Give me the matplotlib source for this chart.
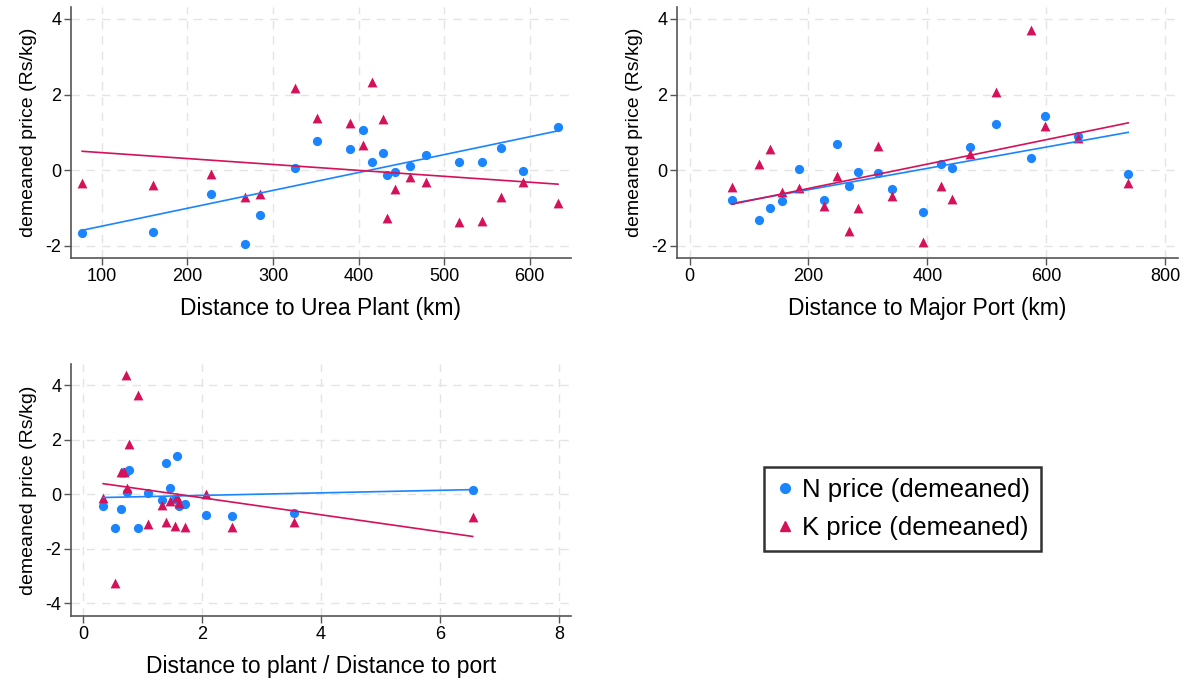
import numpy as np
import matplotlib
matplotlib.use("Agg")
from matplotlib import pyplot as plt
from matplotlib.lines import Line2D

plt.rcParams['font.family'] = ['Liberation Sans', 'DejaVu Sans']
plt.rcParams['axes.unicode_minus'] = False

# --- data ---
# panel 1: distance to urea plant (km)
d_plant = [77, 160, 227, 267, 285, 326, 351, 390, 405, 416, 428, 433, 442, 460,
           479, 517, 544, 566, 592, 633]
n_plant = [-1.67, -1.63, -0.63, -1.96, -1.19, 0.07, 0.78, 0.56, 1.07, 0.22, 0.45,
           -0.14, -0.05, 0.11, 0.40, 0.22, 0.22, 0.59, -0.02, 1.15]
k_plant = [-0.33, -0.38, -0.11, -0.72, -0.62, 2.17, 1.39, 1.25, 0.67, 2.32, 1.35,
           -1.27, -0.50, -0.19, -0.30, -1.36, -1.34, -0.70, -0.31, -0.88]

# panel 2: distance to major port (km)
d_port = [71, 117, 136, 156, 184, 226, 248, 268, 283, 317, 340, 392, 423, 441,
          471, 516, 574, 598, 653, 738]
n_port = [-0.78, -1.32, -1.00, -0.82, 0.04, -0.79, 0.70, -0.42, -0.06, -0.08,
          -0.49, -1.11, 0.15, 0.06, 0.61, 1.22, 0.33, 1.44, 0.90, -0.11]
k_port = [-0.44, 0.15, 0.56, -0.59, -0.47, -0.95, -0.16, -1.61, -0.99, 0.64,
          -0.69, -1.91, -0.41, -0.76, 0.42, 2.06, 3.70, 1.17, 0.86, -0.35]

# panel 3: ratio of the two distances
ratio = [0.34, 0.54, 0.64, 0.69, 0.72, 0.74, 0.78, 0.93, 1.10, 1.33, 1.40, 1.46,
         1.54, 1.58, 1.62, 1.71, 2.07, 2.50, 3.54, 6.55]
n_ratio = [-0.43, -1.23, -0.53, 0.80, 0.80, 0.09, 0.90, -1.23, 0.05, -0.21, 1.15,
           0.22, -0.18, 1.40, -0.45, -0.34, -0.78, -0.79, -0.70, 0.17]
k_ratio = [-0.12, -3.24, 0.81, 0.81, 4.37, 0.23, 1.83, 3.64, -1.10, -0.40, -1.01,
           -0.26, -1.15, -0.09, -0.33, -1.21, 0.00, -1.21, -1.03, -0.83]

# fitted lines (intercept, slope) as shown in the picture
fit_plant_n = (-1.954, 0.00473)
fit_plant_k = (0.620, -0.001565)
fit_port_n = (-1.081, 0.00282)
fit_port_k = (-1.130, 0.003226)
fit_ratio_n = (-0.136, 0.0467)
fit_ratio_k = (0.495, -0.3122)

blue = '#1a85ff'
red = '#d41159'
ylab = 'demeaned price (Rs/kg)'


def panel(ax, x, n, k, fn, fk, xlabel, xlim, ylim, xticks, yticks):
    x = np.array(x)
    ax.scatter(x, n, s=44, color=blue, marker='o', linewidths=0, zorder=3)
    ax.scatter(x, k, s=50, color=red, marker='^', linewidths=0, zorder=3)
    xx = np.array([x.min(), x.max()])
    for (a, b), c in [(fn, blue), (fk, red)]:
        ax.plot(xx, a + b * xx, color=c, lw=1.2, zorder=4)
    ax.set_xlim(*xlim)
    ax.set_ylim(*ylim)
    ax.set_xticks(xticks)
    ax.set_yticks(yticks)
    ax.set_xlabel(xlabel, fontsize=16.5, labelpad=9)
    ax.set_ylabel(ylab, fontsize=14, labelpad=6)
    ax.tick_params(labelsize=13, length=5, width=1, color='#555555', pad=2)
    ax.grid(True, color='#e4e4e4', linestyle=(0, (6, 5)), linewidth=1)
    ax.set_axisbelow(True)
    for s in ['top', 'right']:
        ax.spines[s].set_visible(False)
    for s in ['left', 'bottom']:
        ax.spines[s].set_color('#555555')
        ax.spines[s].set_linewidth(1.2)


fig = plt.figure(figsize=(11.9, 6.84), dpi=100)
ax1 = fig.add_axes([0.0597, 0.623, 0.420, 0.367])
ax2 = fig.add_axes([0.569, 0.623, 0.421, 0.367])
ax3 = fig.add_axes([0.0597, 0.0994, 0.420, 0.368])

panel(ax1, d_plant, n_plant, k_plant, fit_plant_n, fit_plant_k,
      'Distance to Urea Plant (km)',
      (64, 648), (-2.32, 4.32), range(100, 700, 100), [-2, 0, 2, 4])
panel(ax2, d_port, n_port, k_port, fit_port_n, fit_port_k,
      'Distance to Major Port (km)',
      (-21, 822), (-2.32, 4.32), range(0, 1000, 200), [-2, 0, 2, 4])
panel(ax3, ratio, n_ratio, k_ratio, fit_ratio_n, fit_ratio_k,
      'Distance to plant / Distance to port',
      (-0.2, 8.2), (-4.47, 4.77), range(0, 10, 2), [-4, -2, 0, 2, 4])

handles = [Line2D([], [], marker='o', color=blue, ls='', markersize=7),
           Line2D([], [], marker='^', color=red, ls='', markersize=7)]
leg = fig.legend(handles, ['N price (demeaned)', 'K price (demeaned)'],
                 loc='upper left', bbox_to_anchor=(0.642, 0.317), fontsize=18.5,
                 frameon=True, fancybox=False, handletextpad=0.25, handlelength=0.8,
                 borderpad=0.42, labelspacing=0.55, borderaxespad=0)
leg.get_frame().set_edgecolor('black')
leg.get_frame().set_linewidth(1.8)

fig.savefig('out.png', dpi=100)
